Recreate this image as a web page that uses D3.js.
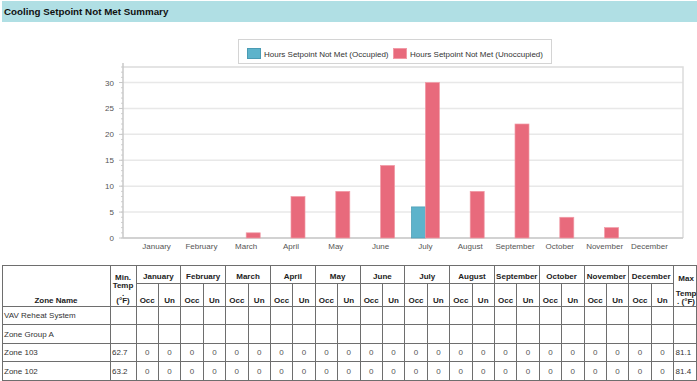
<!DOCTYPE html>
<html>
<head>
<meta charset="utf-8">
<script src="https://cdn.jsdelivr.net/npm/d3@7"></script>
<style>
  body { margin: 0; background: #fff; }
  svg { display: block; font-family: "Liberation Sans", Arial, sans-serif; }
</style>
</head>
<body>
<svg id="chart" width="697" height="381"></svg>
<script>
// chart data
const months = ['January', 'February', 'March', 'April', 'May', 'June', 'July',
  'August', 'September', 'October', 'November', 'December'];
const occupied = [0, 0, 0, 0, 0, 0, 6, 0, 0, 0, 0, 0];
const unoccupied = [0, 0, 1, 8, 9, 14, 30, 9, 22, 4, 2, 0];
const yTicks = [0, 5, 10, 15, 20, 25, 30];
const seriesNames = ['Hours Setpoint Not Met (Occupied)', 'Hours Setpoint Not Met (Unoccupied)'];

// table data
const zoneNames = ['VAV Reheat System', 'Zone Group A', 'Zone 103', 'Zone 102'];
const minTemps = [null, null, 62.7, 63.2];
const maxTemps = [null, null, 81.1, 81.4];
const zoneOcc = [
  null,
  null,
  [0, 0, 0, 0, 0, 0, 0, 0, 0, 0, 0, 0],
  [0, 0, 0, 0, 0, 0, 0, 0, 0, 0, 0, 0]
];
const zoneUn = [
  null,
  null,
  [0, 0, 0, 0, 0, 0, 0, 0, 0, 0, 0, 0],
  [0, 0, 0, 0, 0, 0, 0, 0, 0, 0, 0, 0]
];

const colors = ['#5db3cb', '#e86a7c'];
const strokes = ['#4a9bb3', '#f19aa6'];

const svg = d3.select('#chart');

// Title bar
svg.append('rect')
  .attr('x', 2).attr('y', 1)
  .attr('width', 695).attr('height', 21)
  .attr('fill', '#b0dfe4');
svg.append('text')
  .attr('x', 4).attr('y', 15)
  .attr('font-size', 9.8)
  .attr('font-weight', 'bold')
  .attr('fill', '#111')
  .text('Cooling Setpoint Not Met Summary');

// Plot area
const plotLeft = 123, plotRight = 683, plotTop = 67, plotBottom = 238;

const x = d3.scaleBand()
  .domain(months)
  .range([plotLeft, plotRight])
  .paddingInner(0)
  .paddingOuter(0.25);

const barW = x.bandwidth() * 0.3125;

const y = d3.scaleLinear()
  .domain([0, 33])
  .range([plotBottom, plotTop]);

// gridlines
svg.append('g')
  .selectAll('line')
  .data(yTicks)
  .join('line')
  .attr('x1', plotLeft).attr('x2', plotRight)
  .attr('y1', (d) => y(d)).attr('y2', (d) => y(d))
  .attr('stroke', '#e8e8e8')
  .attr('stroke-width', 1.5);

// frame top / right
svg.append('path')
  .attr('d', `M${plotLeft} ${plotTop} H${plotRight} V${plotBottom}`)
  .attr('fill', 'none')
  .attr('stroke', '#dcdcdc')
  .attr('stroke-width', 1.5);

// y axis with minor ticks
const yAxis = svg.append('g');
yAxis.selectAll('line.minor')
  .data(d3.range(0, 34))
  .join('line')
  .attr('class', 'minor')
  .attr('x1', plotLeft - 2).attr('x2', plotLeft)
  .attr('y1', (d) => y(d)).attr('y2', (d) => y(d))
  .attr('stroke', '#d0d0d0');
yAxis.selectAll('line.major')
  .data(yTicks)
  .join('line')
  .attr('class', 'major')
  .attr('x1', plotLeft - 4).attr('x2', plotLeft)
  .attr('y1', (d) => y(d)).attr('y2', (d) => y(d))
  .attr('stroke', '#c8c8c8');
yAxis.selectAll('text')
  .data(yTicks)
  .join('text')
  .attr('x', plotLeft - 9)
  .attr('y', (d) => y(d) + 3)
  .attr('text-anchor', 'end')
  .attr('font-size', 8)
  .attr('fill', '#555')
  .text((d) => d);
yAxis.append('line')
  .attr('x1', plotLeft).attr('x2', plotLeft)
  .attr('y1', plotTop - 4).attr('y2', plotBottom)
  .attr('stroke', '#c8c8c8')
  .attr('stroke-width', 1.5);

// x axis
svg.append('line')
  .attr('x1', plotLeft).attr('x2', plotRight)
  .attr('y1', plotBottom).attr('y2', plotBottom)
  .attr('stroke', '#c8c8c8')
  .attr('stroke-width', 1.5);
svg.append('g')
  .selectAll('text')
  .data(months)
  .join('text')
  .attr('x', (d) => x(d) + x.bandwidth() / 2)
  .attr('y', 249)
  .attr('text-anchor', 'middle')
  .attr('font-size', 8)
  .attr('fill', '#555')
  .text((d) => d);

// bars
const series = [occupied, unoccupied];
series.forEach((vals, s) => {
  svg.append('g')
    .selectAll('rect')
    .data(months.map((m, i) => ({ month: m, value: vals[i] })).filter((d) => d.value > 0))
    .join('rect')
    .attr('x', (d) => x(d.month) + x.bandwidth() / 2 - barW + s * barW)
    .attr('y', (d) => y(d.value))
    .attr('width', barW)
    .attr('height', (d) => y(0) - y(d.value))
    .attr('fill', colors[s])
    .attr('stroke', strokes[s])
    .attr('stroke-width', 0.7);
});

// legend
const legend = svg.append('g');
legend.append('rect')
  .attr('x', 238.5).attr('y', 39.5)
  .attr('width', 313).attr('height', 24)
  .attr('fill', '#fff')
  .attr('stroke', '#d4d4d4');
const legendX = [247, 393];
seriesNames.forEach((name, i) => {
  legend.append('rect')
    .attr('x', legendX[i] + 0.5).attr('y', 48.5)
    .attr('width', 13).attr('height', 10)
    .attr('fill', colors[i])
    .attr('stroke', strokes[i]);
  legend.append('text')
    .attr('x', legendX[i] + 17)
    .attr('y', 56.5)
    .attr('font-size', 8)
    .attr('fill', '#333')
    .text(name);
});

// ---------- table ----------
const tTop = 265, tMonthRow = 283, tHead = 306, rowH = 18.5;
const colZone = 2, colMin = 110, colM0 = 136, monthW = 44.8;
const colMax = colM0 + 12 * monthW, tRight = 696.5;
const tBottom = tHead + rowH * zoneNames.length;

const table = svg.append('g')
  .attr('stroke', '#6e6e6e')
  .attr('stroke-width', 1)
  .attr('shape-rendering', 'crispEdges');

// horizontal lines
[tTop, tHead].concat(zoneNames.map((z, i) => tHead + rowH * (i + 1))).forEach((yy) => {
  table.append('line').attr('x1', colZone).attr('x2', tRight).attr('y1', yy).attr('y2', yy);
});
table.append('line').attr('x1', colM0).attr('x2', colMax).attr('y1', tMonthRow).attr('y2', tMonthRow);

// vertical lines
[colZone, colMin, colMax, tRight].concat(months.map((m, i) => colM0 + i * monthW)).forEach((xx) => {
  table.append('line').attr('x1', xx).attr('x2', xx).attr('y1', tTop).attr('y2', tBottom);
});
months.forEach((m, i) => {
  const xx = colM0 + i * monthW + monthW / 2;
  table.append('line').attr('x1', xx).attr('x2', xx).attr('y1', tMonthRow).attr('y2', tBottom);
});

const txt = svg.append('g').attr('fill', '#222');
const headText = (xx, yy, t) => txt.append('text')
  .attr('x', xx).attr('y', yy)
  .attr('text-anchor', 'middle')
  .attr('font-size', 8)
  .attr('font-weight', 'bold')
  .text(t);

headText((colZone + colMin) / 2, 303, 'Zone Name');
['Min.', 'Temp', '.', '(°F)'].forEach((t, i) => headText((colMin + colM0) / 2, 280 + i * 7.8, t));
['Max', '', 'Temp', '. (°F)'].forEach((t, i) => headText((colMax + tRight) / 2 + 1, 281 + i * 7.5, t));
months.forEach((m, i) => {
  const x0 = colM0 + i * monthW;
  headText(x0 + monthW / 2, 279, m);
  headText(x0 + monthW / 4, 303, 'Occ');
  headText(x0 + monthW * 3 / 4, 303, 'Un');
});

// body rows
zoneNames.forEach((z, r) => {
  const yy = tHead + rowH * r + rowH / 2 + 3;
  txt.append('text')
    .attr('x', colZone + 2).attr('y', yy)
    .attr('font-size', 8)
    .attr('fill', '#333')
    .text(z);
  if (minTemps[r] !== null) {
    txt.append('text')
      .attr('x', colMin + 2).attr('y', yy)
      .attr('font-size', 8)
      .attr('fill', '#333')
      .text(minTemps[r]);
  }
  if (maxTemps[r] !== null) {
    txt.append('text')
      .attr('x', colMax + 2).attr('y', yy)
      .attr('font-size', 8)
      .attr('fill', '#333')
      .text(maxTemps[r]);
  }
  if (zoneOcc[r]) {
    months.forEach((m, i) => {
      const x0 = colM0 + i * monthW;
      txt.append('text')
        .attr('x', x0 + monthW / 4).attr('y', yy)
        .attr('text-anchor', 'middle')
        .attr('font-size', 8)
        .attr('fill', '#555')
        .text(zoneOcc[r][i]);
      txt.append('text')
        .attr('x', x0 + monthW * 3 / 4).attr('y', yy)
        .attr('text-anchor', 'middle')
        .attr('font-size', 8)
        .attr('fill', '#555')
        .text(zoneUn[r][i]);
    });
  }
});
</script>
</body>
</html>
